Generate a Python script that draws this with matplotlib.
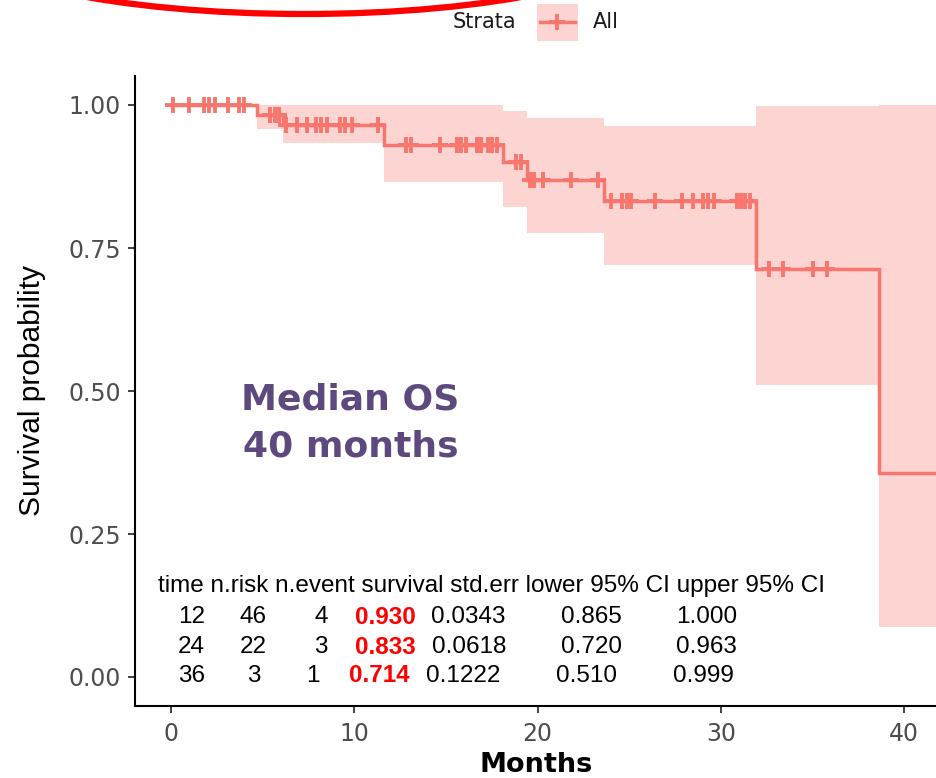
import numpy as np
import matplotlib
matplotlib.use("Agg")
import matplotlib.pyplot as plt
from matplotlib.patches import Ellipse, Rectangle
from matplotlib.lines import Line2D

# ---------------- data ----------------
event_times = [0.0, 4.7, 6.1, 11.6, 18.1, 19.4, 23.6, 31.9, 38.6]
surv        = [1.000, 0.982, 0.965, 0.930, 0.901, 0.869, 0.833, 0.714, 0.357]
ci_upper    = [1.000, 1.000, 1.000, 1.000, 0.990, 0.977, 0.963, 0.999, 1.000]
ci_lower    = [1.000, 0.958, 0.934, 0.865, 0.822, 0.776, 0.720, 0.510, 0.087]
max_followup = 43.0

censor_times = [0.1, 1.0, 1.8, 2.1, 2.4, 3.1, 3.7, 4.0,
                5.4, 5.7, 5.9,
                6.3, 6.9, 7.4, 7.9, 8.2, 8.5, 9.2, 9.5, 9.9, 11.3,
                12.8, 13.1, 14.7, 15.6, 15.8, 16.1, 16.7, 16.9, 17.3, 17.5, 17.8,
                18.8, 19.1,
                19.6, 19.8, 20.3, 21.8, 23.3,
                24.0, 24.6, 24.9, 25.1, 26.4, 27.9, 28.5, 29.0, 29.3, 29.6,
                30.9, 31.1, 31.3, 31.6,
                32.6, 33.4, 35.0, 35.8]

x_ticks = [0, 10, 20, 30, 40]
y_ticks = [0.00, 0.25, 0.50, 0.75, 1.00]
y_ticklabels = ["0.00", "0.25", "0.50", "0.75", "1.00"]

table_header = "time n.risk n.event survival std.err lower 95% CI upper 95% CI"
tab_time    = ["12", "24", "36"]
tab_nrisk   = ["46", "22", "3"]
tab_nevent  = ["4", "3", "1"]
tab_surv    = ["0.930", "0.833", "0.714"]
tab_stderr  = ["0.0343", "0.0618", "0.1222"]
tab_lower   = ["0.865", "0.720", "0.510"]
tab_upper   = ["1.000", "0.963", "0.999"]

annotation_text = "Median OS\n40 months"
legend_title = "Strata"
legend_label = "All"

# ---------------- style ----------------
W, H = 937, 778
line_col = "#F8766D"
fill_col = "#F8766D"
purple = "#5E497F"

fig = plt.figure(figsize=(W / 100, H / 100), dpi=100)

def fx(px):
    return px / W

def fy(py):
    return 1 - py / H

ax = fig.add_axes([fx(135), fy(705.6), fx(937) - fx(135), (705.6 - 76.4) / H])

t_step = list(event_times) + [max_followup]
s_step = list(surv) + [surv[-1]]
u_step = list(ci_upper) + [ci_upper[-1]]
l_step = list(ci_lower) + [ci_lower[-1]]

ax.fill_between(t_step, l_step, u_step, step="post", color=fill_col, alpha=0.3, lw=0)
ax.step(t_step, s_step, where="post", color=line_col, lw=2.5, solid_joinstyle="miter")

idx = np.searchsorted(np.array(event_times), np.array(censor_times), side="right") - 1
cens_y = np.array(surv)[idx]
ax.plot(censor_times, cens_y, ls="none", marker="+", ms=11.5, mew=2.8, color=line_col)

ax.set_xlim(-1.96, (937 - 171) / 18.33)
ax.set_ylim(-0.05, 1.05)
ax.set_xticks(x_ticks)
ax.set_yticks(y_ticks)
ax.set_yticklabels(y_ticklabels)
for s in ["top", "right"]:
    ax.spines[s].set_visible(False)
for s in ["left", "bottom"]:
    ax.spines[s].set_linewidth(1.5)
    ax.spines[s].set_color("black")
ax.tick_params(axis="both", direction="out", length=5, width=1.3, color="#333333",
               labelcolor="#4D4D4D", labelsize=17)
ax.tick_params(axis="y", pad=5)
ax.tick_params(axis="x", pad=7)
for lab in ax.get_xticklabels() + ax.get_yticklabels():
    lab.set_family("DejaVu Sans")

ax.set_xlabel("Months", fontsize=19.5, fontweight="bold", family="DejaVu Sans", labelpad=4)
ax.set_ylabel("Survival probability", fontsize=21.5, family="Liberation Sans", labelpad=16)

ax.text(9.8, 0.444, annotation_text, ha="center", va="center", fontsize=26,
        fontweight="bold", color=purple, family="DejaVu Sans", linespacing=1.5)

# ---------------- summary table ----------------
tfont = dict(family="Liberation Sans", fontsize=17.5, va="center")
fig.text(fx(158), fy(586), table_header, ha="left", color="black", **tfont)
row_y = [617, 647, 676]
col_right = [[205, 267, 328, 416, 506, 622, 737],
             [205, 267, 328, 416, 506, 622, 737],
             [205, 261, 320, 410, 500, 617, 734]]
for r in range(3):
    vals = [tab_time[r], tab_nrisk[r], tab_nevent[r], tab_surv[r],
            tab_stderr[r], tab_lower[r], tab_upper[r]]
    for c, v in enumerate(vals):
        if c == 3:
            fig.text(fx(col_right[r][c]), fy(row_y[r]), v, ha="right", color="#FF0000",
                     fontweight="bold", **tfont)
        else:
            fig.text(fx(col_right[r][c]), fy(row_y[r]), v, ha="right", color="black", **tfont)

# ---------------- legend (top) ----------------
fig.text(fx(484), fy(22), legend_title, ha="center", va="center", fontsize=15,
         family="DejaVu Sans", color="#1A1A1A")
fig.patches.append(Rectangle((fx(537), fy(41)), fx(578) - fx(537), (41 - 4) / H,
                             transform=fig.transFigure, facecolor=fill_col, alpha=0.3,
                             edgecolor="none"))
fig.lines.append(Line2D([fx(540), fx(575)], [fy(22), fy(22)], transform=fig.transFigure,
                        color=line_col, lw=2.5))
fig.lines.append(Line2D([fx(557.5)], [fy(22)], transform=fig.transFigure, color=line_col,
                        marker="+", ms=11.5, mew=2.8, ls="none"))
fig.text(fx(593), fy(22), legend_label, ha="left", va="center", fontsize=15,
         family="DejaVu Sans", color="#1A1A1A")

# ---------------- red ellipse highlight (cropped) ----------------
fig.patches.append(Ellipse((fx(304), fy(-62)), 690 / W, 152 / H, transform=fig.transFigure,
                           fill=False, edgecolor="#FF0000", lw=4.5, clip_on=False))

fig.savefig("out.png", dpi=100)
